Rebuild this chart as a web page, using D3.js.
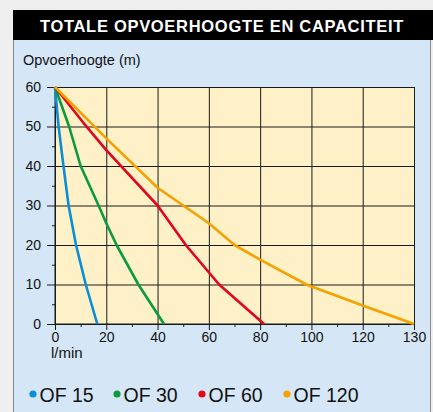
<!DOCTYPE html>
<html>
<head>
<meta charset="utf-8">
<script src="https://cdn.jsdelivr.net/npm/d3@7"></script>
<style>
  html, body { margin: 0; padding: 0; background: #efefef; }
  svg { display: block; font-family: "Liberation Sans", Arial, Helvetica, sans-serif; }
</style>
</head>
<body>
<svg id="chart" width="433" height="412"></svg>
<script>
  // x-waarden (l/min) en opvoerhoogte (m) per pomp
  const series = ["OF 15", "OF 30", "OF 60", "OF 120"];
  const colors = ["#0a8fd6", "#0b9a3f", "#e3051b", "#f5a200"];

  const of15 = [[0, 60], [1.4, 50], [3.3, 40], [5.3, 30], [8.2, 20], [12, 10], [16.5, 0]];
  const of30 = [[0, 60], [5.5, 50], [10, 40], [17, 30], [20, 25.5], [24, 20], [32.5, 10], [42.5, 0]];
  const of60 = [[0, 60], [11, 51], [20, 44], [40, 30], [51, 20], [64, 10], [81.5, 0]];
  const of120 = [[0, 60], [20, 47], [40, 34.5], [50, 30], [60, 25.5],
                 [70, 20], [80, 16.3], [98, 10], [120, 4.7], [130, 0]];
  const curves = [of15, of30, of60, of120];

  const xTicks = [0, 20, 40, 60, 80, 100, 120, 130];
  const xMinor = [10, 30, 50, 70, 90, 110, 125];
  const yTicks = [0, 10, 20, 30, 40, 50, 60];
  const yMinor = [5, 15, 25, 35, 45, 55];

  const svg = d3.select("#chart");

  // paneel
  svg.append("rect").attr("x", 13).attr("y", 40).attr("width", 418).attr("height", 372)
    .attr("fill", "#d5e7f6");
  svg.append("line").attr("x1", 13.5).attr("x2", 13.5).attr("y1", 40).attr("y2", 412)
    .attr("stroke", "#8a8a8a");
  svg.append("line").attr("x1", 430.5).attr("x2", 430.5).attr("y1", 40).attr("y2", 412)
    .attr("stroke", "#8a8a8a");
  svg.append("rect").attr("x", 13).attr("y", 10).attr("width", 420).attr("height", 30)
    .attr("fill", "#000");
  svg.append("text").attr("x", 222).attr("y", 31.5).attr("text-anchor", "middle")
    .attr("fill", "#fff").attr("font-weight", "bold").attr("font-size", 16.5)
    .attr("letter-spacing", 0.7)
    .text("TOTALE OPVOERHOOGTE EN CAPACITEIT");

  const margin = { left: 55, top: 87, right: 19, bottom: 88 };
  const width = 433 - margin.left - margin.right;
  const height = 412 - margin.top - margin.bottom;

  const g = svg.append("g").attr("transform", `translate(${margin.left},${margin.top})`);

  // laatste kolom (120-130) even breed als de andere
  const x = d3.scaleLinear().domain([0, 120, 130]).range([0, width * 6 / 7, width]);
  const y = d3.scaleLinear().domain([0, 60]).range([height, 0]);

  g.append("rect").attr("width", width).attr("height", height).attr("fill", "#fef0c7");

  const styleAxis = sel => {
    sel.select(".domain").remove();
    sel.selectAll("line").attr("stroke", "#1a1a1a");
    sel.selectAll("text").attr("fill", "#111").attr("font-size", 14)
      .attr("font-family", "Liberation Sans, Arial, sans-serif");
  };

  // rasterlijnen
  g.append("g").call(d3.axisLeft(y).tickValues(yTicks).tickSize(-width).tickFormat(""))
    .call(styleAxis);
  g.append("g").attr("transform", `translate(0,${height})`)
    .call(d3.axisBottom(x).tickValues(xTicks).tickSize(-height).tickFormat(""))
    .call(styleAxis);

  // assen
  g.append("g").call(d3.axisLeft(y).tickValues(yTicks).tickSize(8).tickPadding(6))
    .call(styleAxis);
  g.append("g").call(d3.axisLeft(y).tickValues(yMinor).tickSize(3).tickFormat(""))
    .call(styleAxis);
  g.append("g").attr("transform", `translate(0,${height})`)
    .call(d3.axisBottom(x).tickValues(xTicks).tickSize(6).tickPadding(2))
    .call(styleAxis);
  g.append("g").attr("transform", `translate(0,${height})`)
    .call(d3.axisBottom(x).tickValues(xMinor).tickSize(3).tickFormat(""))
    .call(styleAxis);

  g.append("line").attr("x1", 0).attr("x2", 0).attr("y1", 0).attr("y2", height)
    .attr("stroke", "#1a1a1a");
  g.append("line").attr("x1", 0).attr("x2", width).attr("y1", height).attr("y2", height)
    .attr("stroke", "#1a1a1a");

  const line = d3.line().x(d => x(d[0])).y(d => y(d[1]));
  g.selectAll(".curve").data(curves).enter().append("path")
    .attr("class", "curve")
    .attr("d", line)
    .attr("fill", "none")
    .attr("stroke", (d, i) => colors[i])
    .attr("stroke-width", 2.6)
    .attr("stroke-linejoin", "round");

  svg.append("text").attr("x", 23).attr("y", 65).attr("font-size", 14.5).attr("fill", "#111")
    .text("Opvoerhoogte (m)");
  svg.append("text").attr("x", 51).attr("y", 358).attr("font-size", 15).attr("fill", "#111")
    .text("l/min");

  // legenda
  const legendX = [33, 117, 202, 287];
  const legend = svg.selectAll(".legend").data(series).enter().append("g")
    .attr("transform", (d, i) => `translate(${legendX[i]},394)`);
  legend.append("circle").attr("r", 3.6).attr("fill", (d, i) => colors[i]);
  legend.append("text").attr("x", 6.5).attr("y", 7.5).attr("font-size", 19.5).attr("fill", "#111")
    .text(d => d);
</script>
</body>
</html>
